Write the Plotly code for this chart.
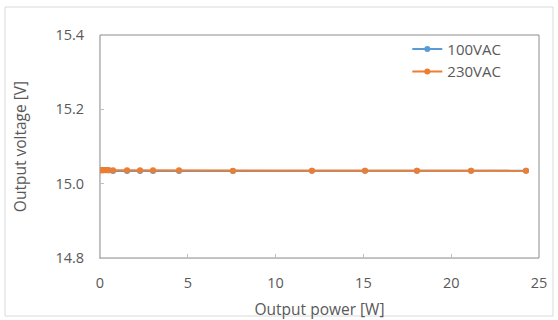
import plotly.graph_objects as go

power_100 = [0.05, 0.1, 0.15, 0.2, 0.3, 0.4, 0.5, 0.74, 1.54, 2.28, 3.02, 4.5, 7.57, 12.07, 15.09, 18.05, 21.13, 24.26]
volt_100 = [15.037, 15.037, 15.037, 15.037, 15.037, 15.037, 15.036, 15.034, 15.034, 15.034, 15.034, 15.034, 15.034, 15.035, 15.035, 15.035, 15.035, 15.035]
power_230 = [0.05, 0.1, 0.15, 0.2, 0.3, 0.4, 0.5, 0.74, 1.54, 2.28, 3.02, 4.5, 7.57, 12.07, 15.09, 18.05, 21.13, 24.26]
volt_230 = [15.036, 15.036, 15.036, 15.036, 15.036, 15.036, 15.036, 15.036, 15.036, 15.036, 15.036, 15.036, 15.035, 15.035, 15.035, 15.035, 15.035, 15.035]

x_ticks = [0, 5, 10, 15, 20, 25]
y_ticks = [14.8, 15.0, 15.2, 15.4]
y_tick_text = ["14.8", "15.0", "15.2", "15.4"]

BLUE = "#5B9BD5"
ORANGE = "#ED7D31"
TXT = "#595959"
FONT = "Open Sans"

fig = go.Figure()
fig.add_trace(go.Scatter(x=power_100, y=volt_100, mode="lines+markers", name="100VAC",
                         line=dict(color=BLUE, width=2), marker=dict(size=6, color=BLUE)))
fig.add_trace(go.Scatter(x=power_230, y=volt_230, mode="lines+markers", name="230VAC",
                         line=dict(color=ORANGE, width=2), marker=dict(size=6, color=ORANGE)))

fig.update_layout(
    width=558, height=320,
    margin=dict(l=100, r=19, t=35, b=62),
    paper_bgcolor="white", plot_bgcolor="white",
    font=dict(family=FONT, color=TXT, size=14),
    showlegend=True,
    legend=dict(x=0.70, y=1.01, xanchor="left", yanchor="top",
                bgcolor="rgba(0,0,0,0)", font=dict(size=15, color=TXT),
                itemwidth=30, tracegroupgap=0),
    xaxis=dict(range=[0, 25], tickvals=x_ticks, ticks="inside", ticklen=4,
               tickcolor="#bfbfbf", showline=True, linecolor="#bfbfbf", linewidth=1,
               showgrid=False, zeroline=False, ticklabelstandoff=12, automargin=False,
               tickfont=dict(size=14.5, color=TXT),
               title=dict(text="Output power [W]", standoff=12, font=dict(size=15.5, color=TXT))),
    yaxis=dict(range=[14.8, 15.4], tickvals=y_ticks, ticktext=y_tick_text, ticks="inside",
               ticklen=4, tickcolor="#bfbfbf", showline=True, linecolor="#bfbfbf", linewidth=1,
               showgrid=False, zeroline=False, ticklabelstandoff=12, automargin=False,
               tickfont=dict(size=14.5, color=TXT),
               title=dict(text="Output voltage [V]", standoff=24, font=dict(size=15.5, color=TXT))),
    shapes=[
        dict(type="rect", xref="paper", yref="paper", x0=0, x1=1, y0=0, y1=1,
             line=dict(color="#8c8c8c", width=1), layer="below"),
        dict(type="rect", xref="paper", yref="paper",
             x0=-95/439, x1=1 + 14/439, y0=-58/223, y1=1 + 28/223,
             line=dict(color="#d9d9d9", width=1), layer="below"),
    ],
)

fig.write_html("out.html", config={"displayModeBar": False},
               post_script="document.body.style.margin='0';document.body.style.padding='0';")
